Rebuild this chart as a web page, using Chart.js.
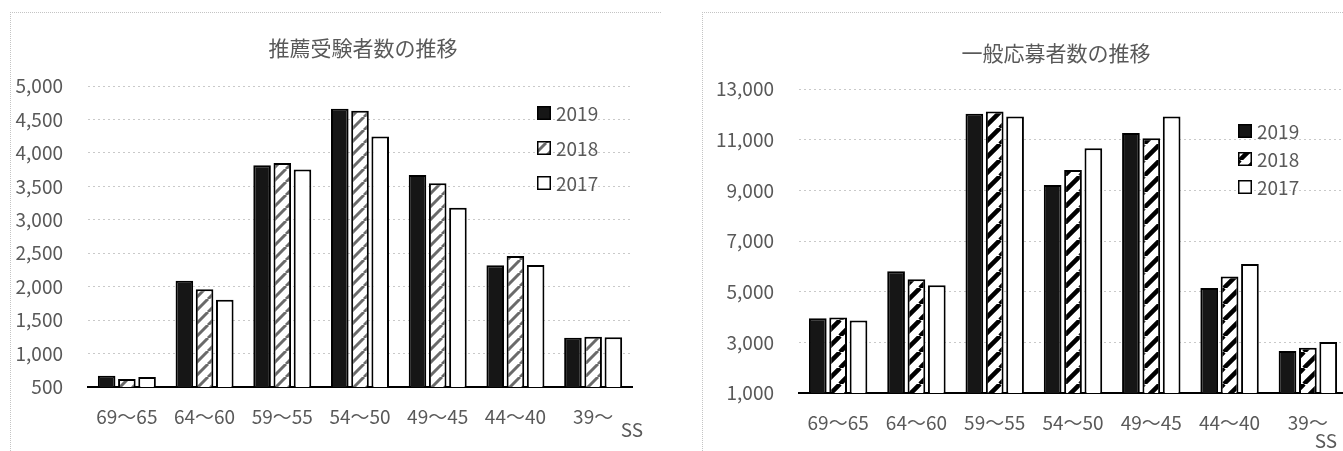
<!DOCTYPE html>
<html lang="ja">
<head>
<meta charset="utf-8">
<title>受験者数の推移</title>
<script src="https://cdn.jsdelivr.net/npm/chart.js@4.4.1/dist/chart.umd.min.js"></script>
<style>
  html, body { margin: 0; padding: 0; background: #fff; overflow: hidden; }
  body { width: 1343px; height: 451px; position: relative; }
  .frame { position: absolute; top: 12px; height: 460px; border-top: 1px dotted #c4c4c4; border-left: 1px dotted #c4c4c4; }
  canvas { position: absolute; top: 0; }
</style>
</head>
<body>
<div class="frame" style="left:10px;width:650px"></div>
<div class="frame" style="left:702px;width:700px"></div>
<canvas id="suisenChart" width="660" height="451" style="left:0"></canvas>
<canvas id="ippanChart" width="680" height="451" style="left:680px"></canvas>
<script>
// categories (SS bands) and series
var categories = ['69～65', '64～60', '59～55', '54～50', '49～45', '44～40', '39～'];
var years = ['2019', '2018', '2017'];

// 推薦受験者数
var suisen2019 = [670, 2090, 3815, 4660, 3670, 2320, 1235];
var suisen2018 = [620, 1960, 3850, 4630, 3545, 2460, 1250];
var suisen2017 = [650, 1805, 3750, 4245, 3180, 2325, 1245];

// 一般応募者数
var ippan2019 = [3950, 5810, 12020, 9215, 11260, 5140, 2655];
var ippan2018 = [3985, 5490, 12110, 9805, 11060, 5600, 2790];
var ippan2017 = [3860, 5250, 11910, 10660, 11910, 6090, 3015];

var suisenTicks = {min: 500, max: 5000, step: 500};
var ippanTicks = {min: 1000, max: 13000, step: 2000};

var textColor = '#595959';
var jpFont = '"Noto Sans CJK JP", "Noto Sans", sans-serif';

// diagonal "/" stripes
function stripes(size, width, color) {
  var c = document.createElement('canvas');
  c.width = size; c.height = size;
  var g = c.getContext('2d');
  g.fillStyle = '#fff';
  g.fillRect(0, 0, size, size);
  g.strokeStyle = color;
  g.lineWidth = width;
  g.beginPath();
  for (var k = -size; k <= size; k += size) {
    g.moveTo(k, size);
    g.lineTo(k + size, 0);
  }
  g.stroke();
  return g.createPattern(c, 'repeat');
}

// title, legend and the "SS" note
var decor = {
  id: 'decor',
  afterDraw: function(chart, args, opts) {
    var ctx = chart.ctx;
    ctx.save();
    ctx.fillStyle = textColor;
    ctx.textBaseline = 'middle';
    ctx.font = '21px ' + jpFont;
    ctx.textAlign = 'center';
    ctx.fillText(opts.title, opts.titleX, opts.titleY);

    ctx.font = '19px ' + jpFont;
    ctx.fillText('SS', opts.ssX, opts.ssY);

    ctx.textAlign = 'left';
    chart.data.datasets.forEach(function(ds, i) {
      var y = opts.legendY + i * opts.legendGap;
      ctx.fillStyle = ds.backgroundColor;
      ctx.fillRect(opts.legendX, y - 7, 14, 14);
      ctx.strokeStyle = '#000';
      ctx.lineWidth = 1.5;
      ctx.strokeRect(opts.legendX + 0.75, y - 6.25, 12.5, 12.5);
      ctx.fillStyle = textColor;
      ctx.fillText(ds.label, opts.legendX + 19, y + 1);
    });
    ctx.restore();
  }
};

function makeChart(id, series, ticks, hatch, box, deco) {
  var fills = ['#161616', hatch, '#ffffff'];
  var ctx = document.getElementById(id).getContext('2d');
  return new Chart(ctx, {
    type: 'bar',
    data: {
      labels: categories,
      datasets: series.map(function(vals, i) {
        return {
          label: years[i],
          data: vals,
          backgroundColor: fills[i],
          borderColor: '#000',
          borderWidth: 2,
          categoryPercentage: 0.78,
          barPercentage: 0.87
        };
      })
    },
    options: {
      responsive: false,
      animation: false,
      layout: {padding: {top: box.top, right: box.right, left: 0, bottom: 0}},
      plugins: {
        legend: {display: false},
        tooltip: {enabled: false},
        decor: deco
      },
      scales: {
        x: {
          grid: {display: false},
          border: {color: '#000', width: 2},
          ticks: {color: textColor, font: {size: 19, family: jpFont}, padding: 10, maxRotation: 0},
          afterFit: function(s) { s.height = box.xHeight; }
        },
        y: {
          min: ticks.min,
          max: ticks.max,
          grid: {color: '#c9c9c9', drawTicks: false, lineWidth: 1},
          border: {display: false, dash: [2, 3]},
          ticks: {
            stepSize: ticks.step,
            color: textColor,
            font: {size: 19, family: jpFont},
            padding: 25,
            callback: function(v) { return v.toLocaleString('en-US'); }
          },
          afterFit: function(s) { s.width = box.yWidth; }
        }
      }
    },
    plugins: [decor]
  });
}

makeChart('suisenChart', [suisen2019, suisen2018, suisen2017], suisenTicks,
  stripes(13, 3, '#6a6a6a'),
  {top: 86, right: 28, yWidth: 88, xHeight: 64},
  {title: '推薦受験者数の推移', titleX: 363, titleY: 48, ssX: 632, ssY: 430,
   legendX: 537, legendY: 113, legendGap: 35});

makeChart('ippanChart', [ippan2019, ippan2018, ippan2017], ippanTicks,
  stripes(16, 4.5, '#000'),
  {top: 89, right: 13, yWidth: 119, xHeight: 58},
  {title: '一般応募者数の推移', titleX: 376, titleY: 53, ssX: 646, ssY: 441,
   legendX: 558, legendY: 131, legendGap: 28});
</script>
</body>
</html>
